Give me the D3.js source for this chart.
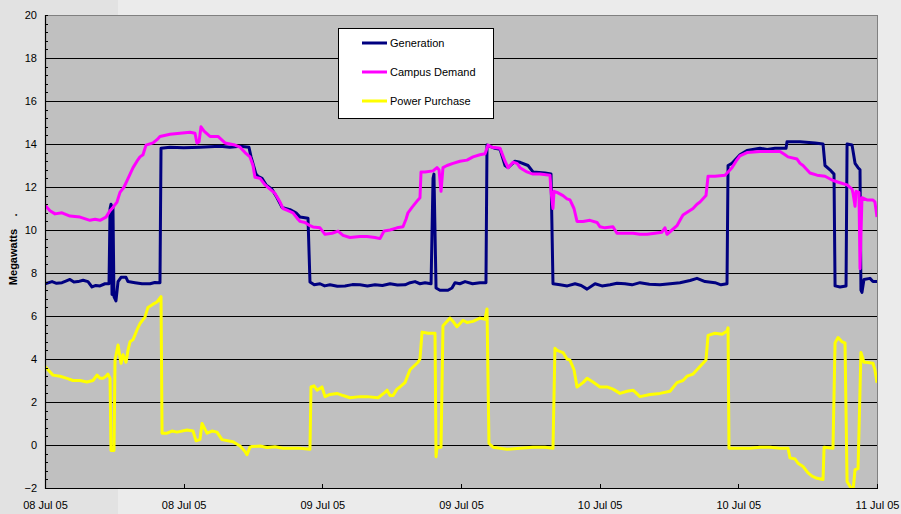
<!DOCTYPE html>
<html>
<head>
<meta charset="utf-8">
<script src="https://cdn.jsdelivr.net/npm/d3@7"></script>
<style>
  html, body { margin: 0; padding: 0; background: #ebebeb; }
  svg { display: block; font-family: "Liberation Sans", Arial, sans-serif; }
</style>
</head>
<body>
<svg id="chart" width="901" height="514"></svg>
<script>
// ---- DATA (hours since 08 Jul 05 00:00, megawatts) ----
const seriesNames = ["Generation", "Campus Demand", "Power Purchase"];
const seriesColors = ["#000080", "#ff00ff", "#ffff00"];
const yTicks = [-2, 0, 2, 4, 6, 8, 10, 12, 14, 16, 18, 20];
const startDate = new Date(2005, 6, 8, 0, 0);
const spanHours = 72;

const generation = [
  [0,7.5],[0.61,7.6],[1.0,7.52],[1.47,7.55],[1.8,7.62],[2.16,7.7],[2.5,7.58],[2.86,7.6],[3.3,7.66],[3.72,7.6],[4.07,7.35],[4.4,7.42],[4.76,7.4],[5.19,7.5],[5.54,7.5],
  [5.63,11.0],[5.71,11.2],[5.80,7.0],[5.88,11.1],[5.97,6.9],[6.14,6.7],[6.32,7.6],[6.58,7.8],[7.01,7.8],[7.18,7.6],
  [7.79,7.55],[8.4,7.5],[9.09,7.5],[9.5,7.56],[9.95,7.55],[10.04,13.8],[10.82,13.85],[12.0,13.82],[13.41,13.85],[15.14,13.9],[16.0,13.85],[16.88,13.9],[17.65,13.85],
  [17.83,13.4],[18.26,12.6],[18.43,12.5],[18.78,12.4],[19.13,12.1],[19.64,11.9],[20.08,11.5],[20.51,11.05],[21.20,10.95],
  [21.72,10.8],[22.07,10.6],[22.76,10.55],[22.93,7.58],[23.3,7.45],[23.80,7.5],[24.2,7.4],[24.66,7.45],[25.3,7.38],[25.96,7.4],[26.6,7.46],[27.26,7.45],[27.9,7.4],[28.56,7.45],
  [29.2,7.42],[29.86,7.5],[30.5,7.44],[31.15,7.45],[31.6,7.55],[32.02,7.6],[32.45,7.5],[32.89,7.55],[33.41,7.5],[33.58,12.4],[33.66,12.6],[33.84,7.3],[34.18,7.2],
  [34.87,7.2],[35.22,7.3],[35.48,7.55],[35.9,7.5],[36.35,7.6],[37.0,7.5],[37.64,7.55],[38.16,7.55],[38.25,13.95],[38.94,13.8],[39.38,13.75],
  [39.81,13.0],[40.07,12.9],[40.67,13.2],[41.11,13.15],[41.80,13.0],[42.23,12.7],[43.27,12.65],[43.79,12.6],[43.96,7.5],
  [44.57,7.45],[45.2,7.4],[45.87,7.5],[46.4,7.42],[46.91,7.25],[47.60,7.5],[48.2,7.4],[48.90,7.45],[49.5,7.52],[50.19,7.5],[50.8,7.45],[51.49,7.55],[52.3,7.48],[53.22,7.45],[54.1,7.5],[54.95,7.55],
  [55.82,7.65],[56.42,7.75],[57.12,7.6],[57.98,7.55],[58.5,7.45],[59.02,7.5],[59.11,13.0],[59.45,13.1],[60.14,13.5],[60.75,13.7],
  [61.87,13.8],[62.5,13.75],[63.17,13.8],[64.13,13.8],[64.21,14.1],[65.34,14.1],[66.64,14.05],[67.33,14.0],[67.50,13.0],[67.93,12.8],
  [68.28,12.6],[68.37,7.4],[68.80,7.35],[69.32,7.4],[69.41,14.0],[69.84,13.95],[70.10,13.1],[70.36,12.9],[70.53,12.8],
  [70.61,7.2],[70.70,7.1],[70.87,7.7],[71.39,7.75],[71.65,7.6],[72.00,7.6]
];

const campusDemand = [
  [0,11.15],[0.43,10.9],[0.87,10.75],[1.47,10.8],[2.16,10.65],[3.03,10.6],[3.89,10.45],[4.33,10.5],[4.76,10.45],
  [5.28,10.6],[5.63,10.9],[5.88,11.05],[6.23,11.3],[6.49,11.75],[6.84,12.0],[7.10,12.3],[7.36,12.6],[7.62,12.9],
  [7.96,13.2],[8.22,13.4],[8.48,13.5],[8.74,13.95],[9.35,14.05],[9.69,14.2],[9.95,14.35],[10.82,14.45],[11.68,14.5],
  [12.55,14.55],[12.98,14.5],[13.15,14.05],[13.33,14.1],[13.50,14.8],[13.76,14.6],[14.28,14.35],[14.97,14.35],
  [15.58,14.05],[16.44,13.95],[16.88,13.85],[17.31,13.6],[17.74,13.4],[18.00,13.0],[18.17,12.45],[18.61,12.4],
  [19.04,12.1],[19.47,11.9],[19.90,11.7],[20.34,11.3],[20.60,11.0],[21.03,10.9],[21.46,10.8],[21.89,10.5],[22.07,10.4],
  [22.50,10.35],[22.93,10.2],[23.19,10.14],[23.80,10.1],[24.23,9.8],[24.84,9.85],[25.36,9.95],[25.79,9.75],[26.39,9.65],
  [27.26,9.7],[27.87,9.7],[28.56,9.65],[28.99,9.6],[29.34,9.95],[29.86,10.0],[30.46,10.1],[30.98,10.15],[31.24,10.5],
  [31.41,10.8],[31.76,11.05],[32.28,11.4],[32.45,11.5],[32.54,12.7],[32.89,12.7],[33.58,12.75],[33.92,12.9],
  [34.10,12.8],[34.27,11.8],[34.44,12.9],[34.79,13.0],[35.31,13.1],[35.91,13.2],[36.52,13.25],[37.04,13.4],
  [37.64,13.5],[38.08,13.55],[38.34,13.95],[38.68,13.85],[39.38,13.8],[39.81,13.2],[40.07,12.9],[40.50,13.15],
  [40.85,13.1],[41.11,12.9],[41.71,12.7],[42.23,12.6],[42.84,12.6],[43.70,12.55],[43.79,11.8],[43.96,11.0],
  [44.05,11.8],[44.31,11.75],[44.83,11.6],[45.17,11.45],[45.43,11.4],[45.78,11.0],[46.04,10.4],[46.56,10.4],
  [47.16,10.45],[47.77,10.35],[48.03,10.15],[48.46,10.1],[49.15,10.15],[49.50,9.85],[50.19,9.85],[50.89,9.85],
  [51.49,9.8],[52.10,9.8],[52.79,9.85],[53.39,9.9],[53.65,10.1],[53.83,9.8],[54.26,10.0],[54.69,10.2],[54.95,10.45],
  [55.21,10.7],[55.64,10.85],[56.08,11.0],[56.42,11.2],[56.68,11.3],[56.94,11.45],[57.20,11.6],[57.38,12.5],
  [57.98,12.5],[58.85,12.55],[59.11,12.7],[59.45,12.9],[59.80,13.2],[60.14,13.45],[60.75,13.6],[61.87,13.65],
  [62.74,13.65],[63.61,13.65],[64.04,13.5],[64.30,13.4],[65.08,13.3],[65.34,13.1],[65.60,13.0],[66.20,12.65],
  [66.81,12.55],[67.50,12.5],[68.19,12.3],[68.80,12.2],[69.41,12.1],[69.84,11.9],[69.93,11.7],[70.10,11.1],
  [70.19,11.8],[70.44,11.75],[70.53,8.2],[70.70,11.5],[71.13,11.4],[71.65,11.4],[71.82,11.3],[72.00,10.6]
];

const powerPurchase = [
  [0,3.65],[0.26,3.5],[0.69,3.25],[1.30,3.2],[1.90,3.1],[2.42,3.0],[3.03,3.0],[3.63,2.93],[4.15,3.0],[4.50,3.25],
  [4.76,3.1],[5.02,3.1],[5.28,3.2],[5.45,3.3],[5.63,3.1],[5.71,-0.25],[5.97,-0.25],[6.06,3.95],[6.32,4.65],[6.58,3.8],
  [6.75,4.2],[7.01,3.85],[7.18,4.4],[7.36,4.8],[7.62,4.9],[7.96,5.35],[8.22,5.65],[8.65,5.95],[8.91,6.4],[9.35,6.55],
  [9.69,6.65],[10.04,6.9],[10.13,0.55],[10.56,0.55],[10.99,0.65],[11.42,0.6],[12.29,0.7],[12.81,0.65],[13.07,0.2],
  [13.41,0.25],[13.59,1.0],[14.02,0.55],[14.45,0.65],[14.88,0.6],[15.32,0.25],[16.27,0.15],[16.88,-0.05],[17.31,-0.3],
  [17.48,-0.45],[17.74,-0.1],[17.91,-0.07],[18.61,-0.05],[19.21,-0.12],[19.90,-0.08],[20.60,-0.15],[22.07,-0.15],
  [22.93,-0.2],[23.02,2.7],[23.28,2.75],[23.54,2.55],[23.97,2.7],[24.23,2.25],[24.66,2.35],[25.27,2.4],[25.79,2.3],
  [26.39,2.2],[27.26,2.25],[27.87,2.25],[28.82,2.2],[29.42,2.45],[29.60,2.55],[29.86,2.3],[30.12,2.3],[30.46,2.6],
  [30.72,2.7],[31.15,2.9],[31.59,3.5],[32.28,3.85],[32.45,4.0],[32.63,5.25],[33.15,5.2],[33.75,5.2],[33.84,-0.55],
  [33.92,-0.1],[34.27,-0.1],[34.44,5.55],[35.05,5.9],[35.31,5.75],[35.65,5.5],[36.17,5.8],[36.52,5.7],[37.04,5.75],
  [37.64,5.9],[38.08,5.85],[38.25,6.33],[38.42,0.07],[38.77,-0.1],[39.98,-0.2],[41.11,-0.15],[42.23,-0.1],[43.27,-0.1],
  [43.96,-0.15],[44.13,4.5],[44.31,4.4],[44.83,4.3],[45.17,4.0],[45.43,3.95],[45.78,3.5],[46.04,2.7],[46.56,2.9],
  [46.91,3.1],[47.42,2.93],[48.03,2.7],[48.64,2.7],[49.15,2.6],[49.76,2.4],[50.37,2.5],[50.89,2.55],[51.49,2.25],
  [52.36,2.35],[53.22,2.4],[54.09,2.5],[54.69,2.9],[55.21,3.0],[55.56,3.2],[56.08,3.3],[56.42,3.5],[56.94,3.8],
  [57.20,3.95],[57.38,5.1],[57.98,5.2],[58.59,5.15],[59.02,5.3],[59.11,5.45],[59.19,-0.15],[60.14,-0.15],[61.01,-0.15],
  [61.87,-0.1],[62.74,-0.1],[63.61,-0.15],[64.30,-0.15],[64.47,-0.6],[64.91,-0.65],[65.16,-0.85],[65.60,-1.0],
  [66.03,-1.3],[66.38,-1.45],[66.81,-1.55],[67.33,-1.6],[67.42,-0.1],[68.19,-0.15],[68.37,4.75],[68.63,5.0],
  [68.97,4.8],[69.23,4.75],[69.41,-1.7],[69.75,-2.0],[69.93,-2.1],[70.10,-1.15],[70.36,-1.1],[70.61,4.3],[70.87,3.85],
  [71.05,3.85],[71.65,3.8],[71.82,3.5],[72.00,2.9]
];

// ---- LAYOUT ----
const svg = d3.select("#chart");
const W = 901, H = 514;
const m = { left: 45, right: 24, top: 15, bottom: 26 };
const pw = W - m.left - m.right, ph = H - m.top - m.bottom;

// page background (darker strip on the left as in the reference)
svg.append("rect").attr("x", 0).attr("y", 0).attr("width", W).attr("height", H).attr("fill", "#ebebeb");
svg.append("rect").attr("x", 0).attr("y", 0).attr("width", 118).attr("height", H).attr("fill", "#e2e2e2");

const toDate = h => new Date(startDate.getTime() + h * 3600 * 1000);
const x = d3.scaleTime().domain([startDate, toDate(spanHours)]).range([m.left, m.left + pw]);
const y = d3.scaleLinear().domain([-2, 20]).range([m.top + ph, m.top]);

// plot area
svg.append("rect").attr("x", m.left).attr("y", m.top).attr("width", pw).attr("height", ph)
  .attr("fill", "#c0c0c0").attr("stroke", "#808080").attr("stroke-width", 1).attr("shape-rendering", "crispEdges");

// gridlines
svg.append("g").selectAll("line").data(yTicks.filter(v => v > -2 && v < 20)).join("line")
  .attr("x1", m.left).attr("x2", m.left + pw)
  .attr("y1", d => Math.round(y(d)) + 0.5).attr("y2", d => Math.round(y(d)) + 0.5)
  .attr("stroke", "#000").attr("stroke-width", 1);

// clip
svg.append("defs").append("clipPath").attr("id", "plotclip")
  .append("rect").attr("x", m.left).attr("y", m.top).attr("width", pw).attr("height", ph);

const line = d3.line().x(d => x(toDate(d[0]))).y(d => y(d[1]));
const allSeries = [generation, campusDemand, powerPurchase];
const gLines = svg.append("g").attr("clip-path", "url(#plotclip)");
allSeries.forEach((s, i) => {
  gLines.append("path").datum(s).attr("d", line)
    .attr("fill", "none").attr("stroke", seriesColors[i]).attr("stroke-width", 3)
    .attr("stroke-linejoin", "round");
});

// y axis
const yMinor = d3.range(-2, 20.001, 0.4);
const yAxis = d3.axisLeft(y).tickValues(yTicks).tickSize(0).tickPadding(8).tickFormat(d3.format("d"));
const gy = svg.append("g").attr("transform", `translate(${m.left},0)`).call(yAxis);
gy.select(".domain").remove();
gy.selectAll("text").attr("font-size", 11).attr("fill", "#000").attr("font-family", "Liberation Sans, Arial, sans-serif");
svg.append("g").selectAll("line").data(yMinor).join("line")
  .attr("x1", m.left).attr("x2", m.left + 3)
  .attr("y1", d => Math.round(y(d)) + 0.5).attr("y2", d => Math.round(y(d)) + 0.5)
  .attr("stroke", "#000");
svg.append("line").attr("x1", m.left + 0.5).attr("x2", m.left + 0.5)
  .attr("y1", m.top).attr("y2", m.top + ph + 1).attr("stroke", "#000").attr("stroke-width", 1.2);

// x axis
const xAxis = d3.axisBottom(x).ticks(d3.timeHour.every(12)).tickSize(0).tickPadding(13)
  .tickFormat(d3.timeFormat("%d %b %y"));
const gx = svg.append("g").attr("transform", `translate(0,${m.top + ph})`).call(xAxis);
gx.select(".domain").remove();
gx.selectAll("text").attr("font-size", 11).attr("fill", "#000").attr("font-family", "Liberation Sans, Arial, sans-serif");
svg.append("g").selectAll("line").data(x.ticks(d3.timeHour.every(12))).join("line")
  .attr("x1", d => Math.round(x(d)) + 0.5).attr("x2", d => Math.round(x(d)) + 0.5)
  .attr("y1", m.top + ph).attr("y2", m.top + ph - 4).attr("stroke", "#000");
svg.append("line").attr("x1", m.left).attr("x2", m.left + pw + 1)
  .attr("y1", m.top + ph + 0.5).attr("y2", m.top + ph + 0.5).attr("stroke", "#000").attr("stroke-width", 1.2);

// y title
svg.append("text").attr("transform", `translate(17,257) rotate(-90)`)
  .attr("text-anchor", "middle").attr("font-size", 11).attr("font-weight", "bold").text("Megawatts");
svg.append("text").attr("transform", `translate(17,215) rotate(-90)`)
  .attr("text-anchor", "middle").attr("font-size", 11).attr("font-weight", "bold").text(".");

// legend
const lg = svg.append("g");
lg.append("rect").attr("x", 338.5).attr("y", 28.5).attr("width", 155).attr("height", 90)
  .attr("fill", "#fff").attr("stroke", "#000").attr("stroke-width", 1);
seriesNames.forEach((n, i) => {
  const ly = 43 + i * 29;
  lg.append("line").attr("x1", 362).attr("x2", 387).attr("y1", ly).attr("y2", ly)
    .attr("stroke", seriesColors[i]).attr("stroke-width", 3);
  lg.append("text").attr("x", 390).attr("y", ly + 4).attr("font-size", 11).attr("fill", "#000").text(n);
});
</script>
</body>
</html>
